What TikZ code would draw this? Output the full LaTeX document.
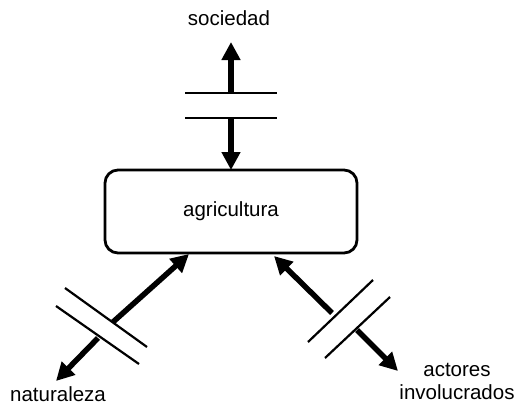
\documentclass[tikz,border=0pt]{standalone}
\usepackage{fontspec}
\setmainfont{Liberation Sans}
\usetikzlibrary{arrows.meta}
\begin{document}
\begin{tikzpicture}[x=1pt,y=-1pt,
  lbl/.style={font=\fontsize{20.5}{23}\selectfont, inner sep=0pt, align=center},
  flow/.style={line width=5.5pt, -{Triangle[length=18pt,width=18pt]}},
  cut/.style={line width=2.2pt},
  hub/.style={draw, line width=2.8pt, rounded corners=13pt, minimum width=252pt,
              minimum height=83pt, inner sep=0pt, font=\fontsize{20.5}{23}\selectfont}]
\useasboundingbox (0,0) rectangle (519,405);

% central box and outer labels
\node[hub] (agr) at (231,211.5) {agricultura};
\node[lbl] (soc) at (229,18) {sociedad};
\node[lbl] (nat) at (58,394) {naturaleza};
\node[lbl] (act) at (457,381) {actores\\involucrados};

% arrow end points
\coordinate (socTip) at (231,42);
\coordinate (agrTop) at (231,170);
\coordinate (agrBL) at (189,254);
\coordinate (agrBR) at (274,256);
\coordinate (natTip) at (56,381);
\coordinate (actTip) at (398,371);

% breaks on each link
\coordinate (t1) at (231,93);   \coordinate (t2) at (231,118);
\coordinate (l1) at (113,322);  \coordinate (l2) at (98,338);
\coordinate (r1) at (332,313);  \coordinate (r2) at (357,330);

% sociedad link
\draw[cut] (185,93) -- (277,93);
\draw[cut] (185,118) -- (277,118);
\draw[flow] (t1) -- (socTip);
\draw[flow] (t2) -- (agrTop);

% naturaleza link
\draw[cut] (65,288) -- (147,347);
\draw[cut] (56,306) -- (139,364);
\draw[flow] (l1) -- (agrBL);
\draw[flow] (l2) -- (natTip);

% actores link
\draw[cut] (373,280) -- (308,342);
\draw[cut] (390,297) -- (325,358);
\draw[flow] (r1) -- (agrBR);
\draw[flow] (r2) -- (actTip);
\end{tikzpicture}
\end{document}
